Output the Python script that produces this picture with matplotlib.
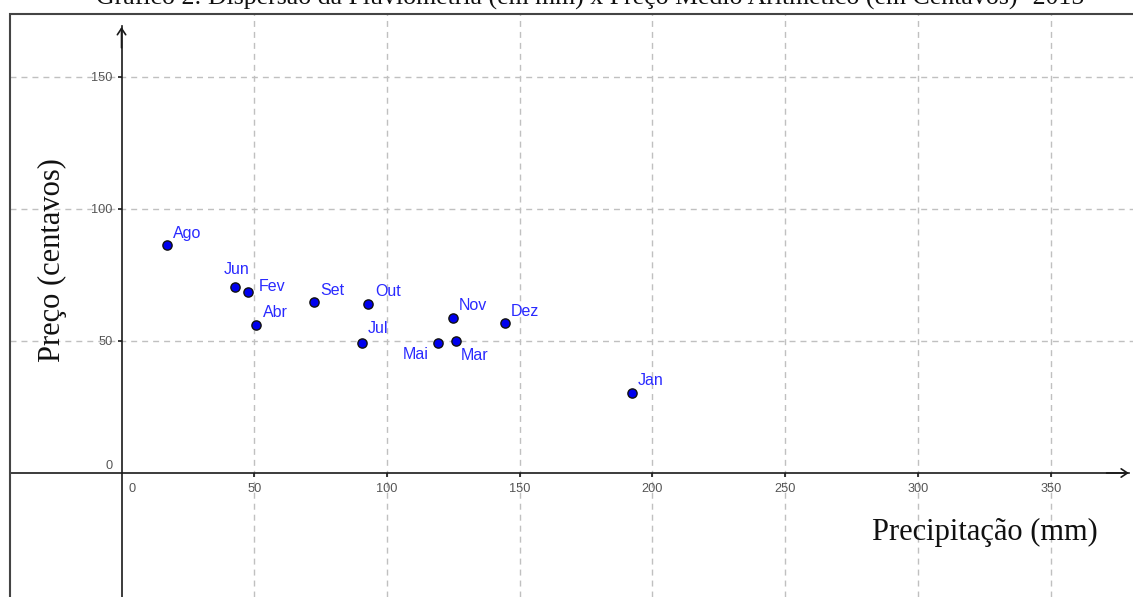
import matplotlib
matplotlib.use('Agg')
import matplotlib.pyplot as plt
from matplotlib.patches import Rectangle

plt.rcParams['lines.scale_dashes'] = False

# dados
meses = ['Jan', 'Fev', 'Mar', 'Abr', 'Mai', 'Jun', 'Jul', 'Ago', 'Set', 'Out', 'Nov', 'Dez']
precipitacao = [192.3, 47.5, 125.9, 50.7, 119.2, 42.7, 90.7, 17.1, 72.4, 93.0, 124.7, 144.3]
preco = [30.2, 68.4, 49.9, 56.1, 49.4, 70.3, 49.2, 86.2, 64.9, 63.9, 58.8, 56.7]

x_ticks = [50, 100, 150, 200, 250, 300, 350]
y_ticks = [50, 100, 150]

titulo = 'Gráfico 2: Dispersão da Pluviometria (em mm) x Preço Médio Aritmético (em Centavos)- 2015'

# deslocamento dos rotulos (pixels) em relacao ao ponto
offsets = {
    'Ago': (6, 7), 'Jun': (-11, 13), 'Fev': (11, 1), 'Abr': (7, 8),
    'Set': (7, 7), 'Out': (7, 8), 'Jul': (5, 10), 'Nov': (6, 8),
    'Dez': (6, 7), 'Mai': (-35, -16), 'Mar': (5, -19), 'Jan': (6, 8),
}

W, H = 1133, 597
fig = plt.figure(figsize=(W / 100, H / 100), dpi=100)
ax = fig.add_axes([9.5 / W, 0, 1 - 9.5 / W, (H - 14) / H])
ax.set_facecolor('white')

xmin, xmax = -42.2, 381.0
ymin, ymax = -46.97, 173.86
ax.set_xlim(xmin, xmax)
ax.set_ylim(ymin, ymax)

# eixos no zero
for s in ['top', 'right']:
    ax.spines[s].set_visible(False)
ax.spines['left'].set_position(('data', 0))
ax.spines['bottom'].set_position(('data', 0))
ax.spines['left'].set_bounds(ymin, 169.5)
ax.spines['bottom'].set_bounds(xmin, 379.5)
for s in ['left', 'bottom']:
    ax.spines[s].set_linewidth(1.2)
    ax.spines[s].set_color('#1a1a1a')
    ax.spines[s].set_zorder(3)

ax.annotate('', xy=(0, 170), xytext=(0, 160),
            arrowprops=dict(arrowstyle='->,head_length=0.45,head_width=0.3', lw=1.2, color='#1a1a1a'))
ax.annotate('', xy=(380.5, 0), xytext=(370, 0),
            arrowprops=dict(arrowstyle='->,head_length=0.45,head_width=0.3', lw=1.2, color='#1a1a1a'))

ax.set_xticks(x_ticks)
ax.set_yticks(y_ticks)
ax.set_xticklabels([str(v) for v in x_ticks])
ax.set_yticklabels([str(v) for v in y_ticks])
ax.tick_params(direction='out', length=3, width=1.2, color='#1a1a1a',
               labelsize=9.2, labelcolor='#555555')
ax.tick_params(axis='x', pad=4)
ax.tick_params(axis='y', pad=3.3)
for lab in ax.get_xticklabels() + ax.get_yticklabels():
    lab.set_family('Liberation Sans')

ax.annotate('0', xy=(0, 0), xytext=(11, -10), textcoords='offset pixels',
            ha='center', va='top', fontsize=9.2, color='#555555', family='Liberation Sans')
ax.annotate('0', xy=(0, 0), xytext=(-8.5, 7), textcoords='offset pixels',
            ha='right', va='center', fontsize=9.2, color='#555555', family='Liberation Sans')

ax.grid(True, color='#c0c0c0', linewidth=1.0, linestyle=(0, (4.3, 3.6)))
ax.set_axisbelow(True)

# pontos
ax.scatter(precipitacao, preco, s=44, color='#0000ee', edgecolor='#111111',
           linewidth=1.0, zorder=5, clip_on=False)
for m, xv, yv in zip(meses, precipitacao, preco):
    dx, dy = offsets[m]
    ax.annotate(m, xy=(xv, yv), xytext=(dx, dy), textcoords='offset pixels',
                ha='left', va='baseline', fontsize=11.5, color='#2a2aff',
                family='Liberation Sans', zorder=6)

# rotulos dos eixos
fig.text(52 / W, 1 - 260 / H, 'Preço (centavos)', rotation=90, ha='center', va='center',
         fontsize=22, family='Liberation Serif', color='#111111')
fig.text(985 / W, 1 - 532 / H, 'Precipitação (mm)', ha='center', va='center',
         fontsize=22, family='Liberation Serif', color='#111111')

# moldura
fig.add_artist(Rectangle((9.5 / W, -0.2), 1.2, (H - 14) / H + 0.2, transform=fig.transFigure,
                         fill=False, edgecolor='#444444', linewidth=1.5))

# titulo (cortado no topo, como no original)
fig.text(590 / W, 1 - 5 / H, titulo, ha='center', va='baseline',
         fontsize=18.6, family='Liberation Serif', color='#111111')

fig.savefig('out.png', dpi=100)
